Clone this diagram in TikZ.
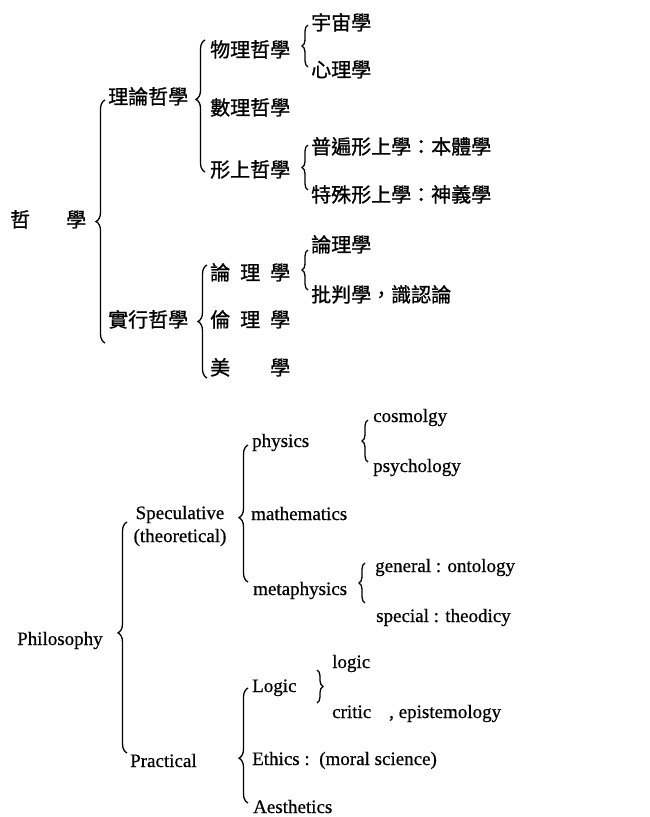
\documentclass[tikz,border=0pt]{standalone}
\usepackage{fontspec}
\setmainfont{Liberation Serif}[FakeBold=0.6]
\newfontfamily\cjk{Noto Sans CJK TC}[FakeBold=1]
\usetikzlibrary{decorations.pathreplacing, positioning}
\tikzstyle{zh} = [anchor=base west, inner sep=0pt, yshift=-7pt,
                  font=\cjk\fontsize{20}{24}\selectfont]
\tikzstyle{en} = [anchor=base west, inner sep=0pt, yshift=-5pt,
                  font=\fontsize{19}{23}\selectfont]
\tikzstyle{brc} = [decorate, decoration={brace, amplitude=9pt}, line width=1.3pt]
\tikzstyle{sbrc} = [decorate, decoration={brace, amplitude=6pt}, line width=1.3pt]

\begin{document}
\begin{tikzpicture}[x=1pt, y=-1pt]
                    \useasboundingbox (0,0) rectangle (649,817);
                    % Chinese tree
                    \node[zh] (zx) at (10, 220) {\makebox[76pt][s]{哲\hfill 學}};
                    \node[zh] (lilun) at (108, 97) {理論哲學};
                    \node[zh] (shixing) at (108, 320) {實行哲學};
                    \node[zh] (wuli) at (210, 50) {物理哲學};
                    \node[zh] (shuli) at (210, 108) {數理哲學};
                    \node[zh] (xingshang) at (210, 170) {形上哲學};
                    \node[zh] (yuzhou) at (311, 23) {宇宙學};
                    \node[zh] (xinli) at (311, 70) {心理學};
                    \node[zh] (pubian) at (311, 147) {普遍形上學：本體學};
                    \node[zh] (teshu) at (311, 195) {特殊形上學：神義學};
                    \node[zh] (luoji) at (210, 273) {\makebox[80pt][s]{論\hfill 理\hfill 學}};
                    \node[zh] (lunli) at (210, 320) {\makebox[80pt][s]{倫\hfill 理\hfill 學}};
                    \node[zh] (meixue) at (210, 368) {\makebox[80pt][s]{美\hfill 學}};
                    \node[zh] (lunlixue) at (311, 245) {論理學};
                    \node[zh] (pipan) at (311, 295) {批判學，識認論};
                    \coordinate (zb0) at (105, 343);  \coordinate (zt0) at (105, 100);
                    \coordinate (zb1) at (205, 172);  \coordinate (zt1) at (205, 40);
                    \coordinate (zb2) at (308, 67);   \coordinate (zt2) at (308, 25);
                    \coordinate (zb3) at (308, 190);  \coordinate (zt3) at (308, 145);
                    \coordinate (zb4) at (207, 378);  \coordinate (zt4) at (207, 265);
                    \coordinate (zb5) at (308, 290);  \coordinate (zt5) at (308, 250);
                    \draw[brc] (zb0) -- (zt0);
                    \draw[brc, decoration={aspect=0.55}] (zb1) -- (zt1);
                    \draw[sbrc] (zb2) -- (zt2);
                    \draw[sbrc] (zb3) -- (zt3);
                    \draw[brc] (zb4) -- (zt4);
                    \draw[sbrc] (zb5) -- (zt5);
                    % English tree
                    \node[en] (philo) at (17, 640) {Philosophy};
                    \node[en, anchor=center, yshift=5pt, align=center] (spec) at (180, 526)
                        {Speculative\\(theoretical)};
                    \node[en] (prac) at (130, 762) {Practical};
                    \node[en] (phys) at (252, 442) {physics};
                    \node[en] (math) at (251, 515) {mathematics};
                    \node[en] (meta) at (253, 590) {metaphysics};
                    \node[en] (cosmo) at (373, 417) {cosmolgy};
                    \node[en] (psych) at (373, 467) {psychology};
                    \node[en] (gen) at (375, 567) {general\ : ontology};
                    \node[en] (spc) at (376, 617) {special\ : theodicy};
                    \node[en] (logicb) at (252, 687) {Logic};
                    \node[en] (ethics) at (252, 760) {Ethics\ :\ \ (moral\ science)};
                    \node[en] (aes) at (253, 808) {Aesthetics};
                    \node[en] (logic) at (332, 663) {logic};
                    \node[en] (critic) at (332, 713) {critic\hspace{18pt}, epistemology};
                    \coordinate (eb0) at (127, 753);  \coordinate (et0) at (127, 522);
                    \coordinate (eb1) at (248, 582);  \coordinate (et1) at (248, 445);
                    \coordinate (eb2) at (368, 462);  \coordinate (et2) at (368, 420);
                    \coordinate (eb3) at (365, 603);  \coordinate (et3) at (365, 563);
                    \coordinate (eb4) at (248, 803);  \coordinate (et4) at (248, 688);
                    \coordinate (eb5) at (317, 703);  \coordinate (et5) at (317, 670);
                    \draw[brc, decoration={aspect=0.52}] (eb0) -- (et0);
                    \draw[brc, decoration={aspect=0.47}] (eb1) -- (et1);
                    \draw[sbrc] (eb2) -- (et2);
                    \draw[sbrc] (eb3) -- (et3);
                    \draw[brc, decoration={aspect=0.39}] (eb4) -- (et4);
                    \draw[sbrc] (et5) -- (eb5);
                \end{tikzpicture}
\end{document}
